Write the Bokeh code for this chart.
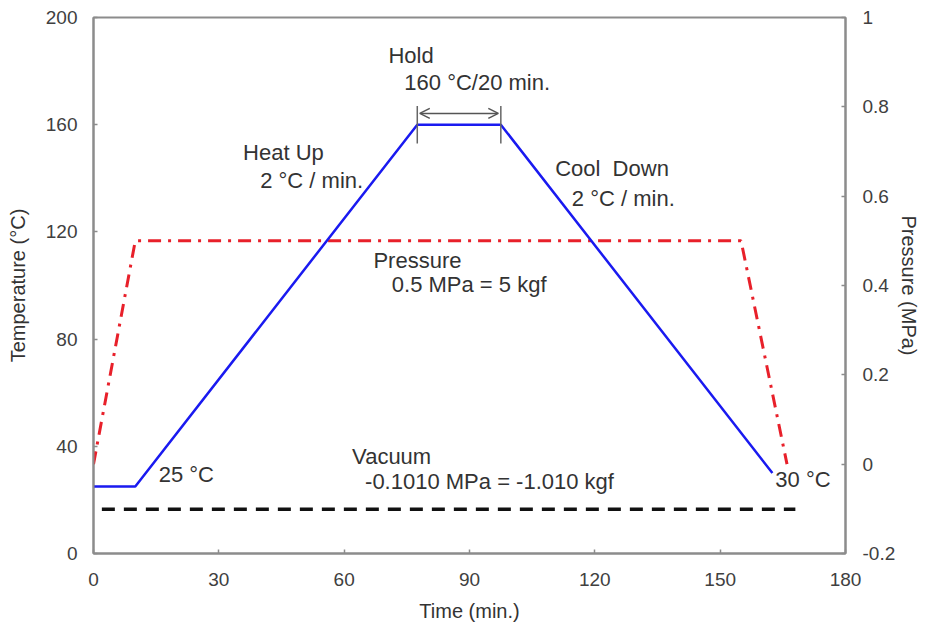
from bokeh.plotting import figure
from bokeh.models import Range1d, LinearAxis, FixedTicker, NumeralTickFormatter, Arrow, OpenHead, ColumnDataSource
from bokeh.core.properties import value
from bokeh.embed import file_html
from bokeh.resources import INLINE

# ---- data ----
time_temp = [0, 10, 77.5, 97.5, 162.5]
temperature = [25, 25, 160, 160, 30]

time_pressure = [0, 10, 155, 166]
pressure = [0, 0.5, 0.5, 0]

time_vacuum = [2, 168]
vacuum = [-0.101, -0.101]

x_ticks = [0, 30, 60, 90, 120, 150, 180]
temp_ticks = [0, 40, 80, 120, 160, 200]
pressure_ticks = [-0.2, 0, 0.2, 0.4, 0.6, 0.8, 1]

# annotation texts (data coordinates: time, temperature)
ann_text = ["Hold", "160 °C/20 min.", "Heat Up", "2 °C / min.", "Cool \u00a0Down", "2 °C / min.",
            "Pressure", "0.5 MPa = 5 kgf", "Vacuum", "-0.1010 MPa = -1.010 kgf", "25 °C", "30 °C"]
ann_x = [70.6, 74.4, 35.8, 39.9, 110.5, 114.5, 67.0, 71.4, 61.9, 65.0, 15.6, 163.2]
ann_y = [185.8, 175.8, 149.8, 139.3, 143.6, 132.5, 109.5, 100.2, 36.2, 26.9, 29.4, 27.6]

FONT = "Liberation Sans"
AXIS_GRAY = "#8c8c8c"
TEXT = "#333333"

p = figure(width=925, height=624, output_backend="svg", toolbar_location=None,
           x_range=Range1d(0, 180), y_range=Range1d(0, 200),
           min_border_left=93, min_border_right=80, min_border_top=17, min_border_bottom=70)
p.extra_y_ranges = {"pressure": Range1d(-0.2, 1)}
p.xgrid.grid_line_color = None
p.ygrid.grid_line_color = None
p.outline_line_color = AXIS_GRAY
p.outline_line_width = 2
p.outline_line_alpha = 1

right = LinearAxis(y_range_name="pressure")
p.add_layout(right, "right")

p.xaxis.ticker = FixedTicker(ticks=x_ticks)
p.yaxis[0].ticker = FixedTicker(ticks=temp_ticks)
right.ticker = FixedTicker(ticks=pressure_ticks)
right.formatter = NumeralTickFormatter(format="0.[0]")

p.xaxis.axis_label = "Time (min.)"
p.yaxis[0].axis_label = "Temperature (°C)"
right.axis_label = "Pressure (MPa)"

for ax in [p.xaxis[0], p.yaxis[0], right]:
    ax.axis_line_color = AXIS_GRAY
    ax.axis_line_width = 2
    ax.major_tick_line_color = AXIS_GRAY
    ax.major_tick_line_width = 1.5
    ax.major_tick_in = 4
    ax.major_tick_out = 0
    ax.minor_tick_line_color = None
    ax.major_label_text_font = FONT
    ax.major_label_text_font_size = "19px"
    ax.major_label_text_color = "#404040"
    ax.axis_label_text_font = FONT
    ax.axis_label_text_font_size = "20px"
    ax.axis_label_text_font_style = "normal"
    ax.axis_label_text_color = TEXT

p.xaxis[0].major_label_standoff = 19
p.xaxis[0].axis_label_standoff = 11
p.yaxis[0].major_label_standoff = 16
p.yaxis[0].axis_label_standoff = 14
right.major_label_standoff = 17
right.axis_label_standoff = 0

# lines
p.line(time_vacuum, vacuum, y_range_name="pressure", line_color="#111111", line_width=3.5, line_dash="13 9")
p.line(time_pressure, pressure, y_range_name="pressure", line_color="#e8202a", line_width=3, line_dash="13 7 3 7")
p.line(time_temp, temperature, line_color="#1a1af0", line_width=2.5)

# hold marker
hold_start, hold_end = time_temp[2], time_temp[3]
p.segment(x0=[hold_start, hold_end], y0=[153, 153], x1=[hold_start, hold_end], y1=[167, 167],
          line_color="#666666", line_width=1.5)
p.add_layout(Arrow(start=OpenHead(size=10, line_color="#555555", line_width=1.5),
                   end=OpenHead(size=10, line_color="#555555", line_width=1.5),
                   x_start=hold_start + 0.6, y_start=164.2, x_end=hold_end - 0.6, y_end=164.2,
                   line_color="#555555", line_width=1.5))

src = ColumnDataSource(dict(x=ann_x, y=ann_y, text=ann_text))
p.text(x="x", y="y", text="text", source=src, text_font=value(FONT), text_font_size=value("22px"),
       text_color=TEXT, text_baseline="middle", text_align="left")

open("out.html", "w").write(file_html(p, INLINE))
